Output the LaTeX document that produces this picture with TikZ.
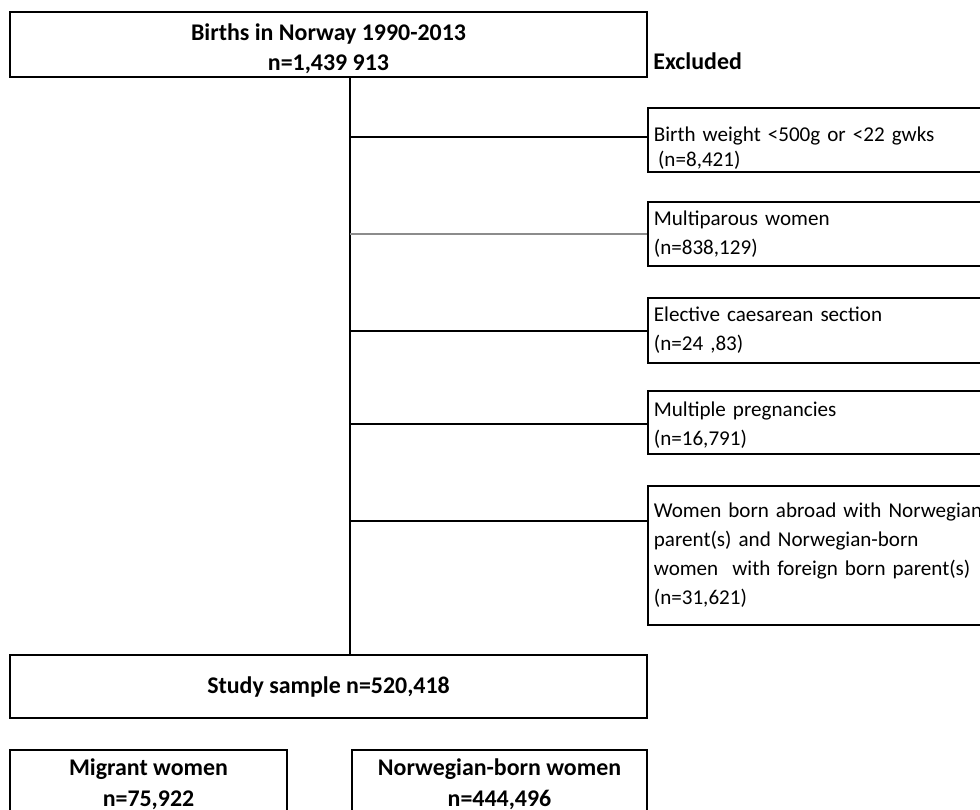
\documentclass[tikz,border=0pt]{standalone}
\usepackage{fontspec}
\setmainfont{Carlito}
\begin{document}
\begin{tikzpicture}[
    box/.style={draw, rectangle, line width=1pt, inner sep=0pt, align=center, font=\fontsize{13.6}{17.5}\selectfont\bfseries},
    exbox/.style={draw, rectangle, line width=1pt, anchor=north west, text width=7.6cm, inner xsep=0.12cm, inner ysep=0pt, align=left, font=\fontsize{12}{16.5}\selectfont},
    link/.style={line width=1pt}
]
    \useasboundingbox (0,0) rectangle (19.6,-16.2);
    \clip (0,0) rectangle (19.6,-16.2);

    % Population
    \node[box, minimum width=12.74cm, minimum height=1.3cm] (births) at (6.57,-0.89) {\rule{0pt}{0.5cm}Births in Norway 1990-2013\\n=1,439 913};
    \node[anchor=west, inner sep=0pt, font=\fontsize{13.6}{16}\selectfont\bfseries] (excl) at (13.06,-1.22) {Excluded};

    % Exclusions
    \node[exbox, minimum height=1.28cm] (ex1) at (12.94,-2.14) {\rule{0pt}{0.62cm}Birth weight <500g or <22 gwks\\[-2pt]\hspace*{0.2em}(n=8,421)};
    \node[exbox, minimum height=1.28cm] (ex2) at (12.94,-4.02) {Multiparous women\\(n=838,129)};
    \node[exbox, minimum height=1.30cm] (ex3) at (12.94,-5.94) {Elective caesarean section\\(n=24 ,83)};
    \node[exbox, minimum height=1.26cm] (ex4) at (12.94,-7.80) {\rule{0pt}{0.4cm}Multiple pregnancies\\(n=16,791)};
    \node[exbox, minimum height=2.78cm] (ex5) at (12.94,-9.70) {Women born abroad with Norwegian\\parent(s) and Norwegian-born\\women\ \ with foreign born parent(s)\\(n=31,621)};

    % Study sample and groups
    \node[box, minimum width=12.74cm, minimum height=1.26cm] (sample) at (6.57,-13.73) {Study sample n=520,418};
    \node[box, anchor=north, minimum width=5.54cm, minimum height=1.36cm] (migrant) at (2.97,-14.98) {Migrant women\\n=75,922};
    \node[box, anchor=north, minimum width=5.9cm, minimum height=1.36cm] (norwegian) at (9.99,-14.98) {Norwegian-born women\\n=444,496};

    % Connectors
    \coordinate (trunk) at (7,0);
    \draw[link] (births.south -| trunk) -- (sample.north -| trunk);
    \foreach \n/\dy/\c in {ex1/0.6/black, ex2/0.66/black!45, ex3/0.68/black, ex4/0.68/black, ex5/0.72/black} {
        \path ([yshift=-\dy cm]\n.north west) coordinate (in-\n);
        \draw[link, draw=\c] (in-\n -| trunk) -- (in-\n);
    }
\end{tikzpicture}
\end{document}
